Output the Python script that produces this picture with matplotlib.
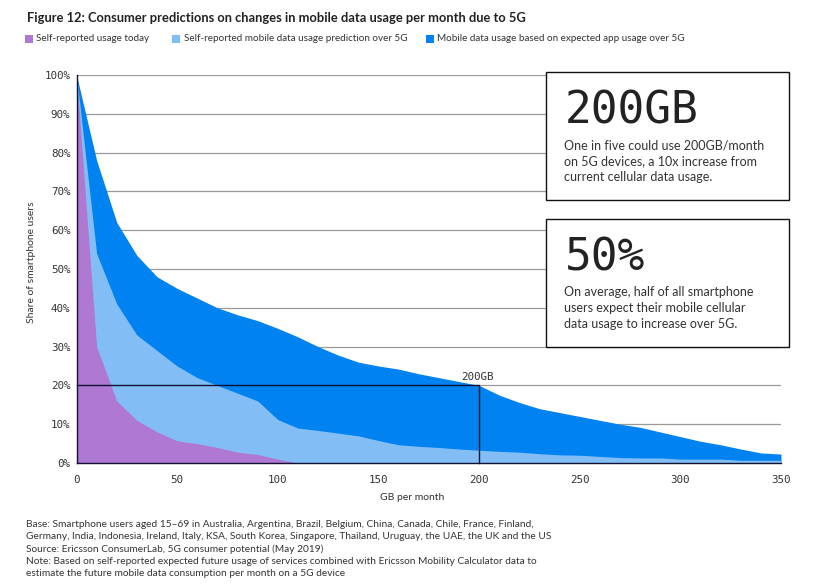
"""Consumer predictions on mobile data usage per month due to 5G."""

import matplotlib
matplotlib.use("Agg")
import matplotlib.pyplot as plt
from matplotlib.patches import Rectangle

W, H = 818, 586

gb = [0, 10, 20, 30, 40, 50, 60, 70, 80, 90, 100, 110, 120, 130, 140, 150, 160, 170,
      180, 190, 200, 210, 220, 230, 240, 250, 260, 270, 280, 290, 300, 310, 320, 330,
      340, 350]
app_based = [100, 78, 62, 53.5, 48, 45, 42.5, 40, 38.2, 36.7, 34.7, 32.5, 30, 27.8, 26,
             25, 24.2, 23, 22, 21, 20, 17.5, 15.6, 14, 13, 12, 11, 10, 9.2, 8, 6.8,
             5.6, 4.7, 3.6, 2.6, 2.3]
self_predicted = [100, 54, 41, 33, 29, 25, 22, 20, 18, 16, 11.2, 9, 8.4, 7.7, 7, 5.8,
                  4.7, 4.3, 4, 3.6, 3.3, 3, 2.8, 2.4, 2.1, 2, 1.7, 1.4, 1.3, 1.3, 1,
                  1, 1, 0.7, 0.7, 0.7]
self_today = [100, 30, 16, 11, 8, 5.7, 5, 4, 2.8, 2.2, 1, 0, 0, 0, 0, 0, 0, 0, 0, 0, 0,
              0, 0, 0, 0, 0, 0, 0, 0, 0, 0, 0, 0, 0, 0, 0]

y_ticks = [0, 10, 20, 30, 40, 50, 60, 70, 80, 90, 100]
x_ticks = [0, 50, 100, 150, 200, 250, 300, 350]

legend_labels = ["Self-reported usage today",
                 "Self-reported mobile data usage prediction over 5G",
                 "Mobile data usage based on expected app usage over 5G"]
PURPLE, LIGHT, BLUE = "#AF78D2", "#82BEF5", "#0082F0"
TEXT = "#333333"
SANS = "Lato"
MONO = "DejaVu Sans Mono"


def fx(px):
    return px / W


def fy(py):
    return 1 - py / H


fig = plt.figure(figsize=(W / 100, H / 100), dpi=100, facecolor="white")
ax = fig.add_axes([fx(76.5), fy(463), (781 - 76.5) / W, (463 - 75) / H])

ax.fill_between(gb, app_based, color=BLUE, lw=0, zorder=2)
ax.fill_between(gb, self_predicted, color=LIGHT, lw=0, zorder=3)
ax.fill_between(gb, self_today, color=PURPLE, lw=0, zorder=4)

# 200GB marker
ax.plot([0, 200, 200], [20, 20, 0], color="#111133", lw=1, zorder=5, clip_on=False)
ax.text(199, 21.0, "200GB", family=MONO, fontsize=7.8, color=TEXT, ha="center", va="bottom")

ax.set_xlim(0, 350)
ax.set_ylim(0, 100)
ax.set_xticks(x_ticks)
ax.set_yticks(y_ticks)
ax.set_yticklabels([f"{v}%" for v in y_ticks])
ax.tick_params(length=0, labelsize=7.8, labelcolor=TEXT)
ax.tick_params(axis="y", pad=4.5)
ax.tick_params(axis="x", pad=8.5)
for lab in ax.get_xticklabels() + ax.get_yticklabels():
    lab.set_family(MONO)
ax.grid(axis="y", color="#999999", lw=0.9, zorder=1)
ax.set_axisbelow(True)
for side in ("top", "right"):
    ax.spines[side].set_visible(False)
for side in ("left", "bottom"):
    ax.spines[side].set_color("#111133")
    ax.spines[side].set_linewidth(1)
    ax.spines[side].set_zorder(6)

fig.text(fx(31), fy(262), "Share of smartphone users", rotation=90, family=SANS,
         fontsize=7.5, color=TEXT, ha="center", va="center")
fig.text(fx(412), fy(497), "GB per month", family=SANS, fontsize=7.5, color=TEXT,
         ha="center", va="center")

fig.text(fx(27), fy(18), "Figure 12: Consumer predictions on changes in mobile data usage per month due to 5G",
         family=SANS, fontsize=9.28, fontweight="bold", color="#222222", va="center")

# legend row
for px, tx, label, col in zip([25, 172, 426], [36, 184, 437], legend_labels, [PURPLE, LIGHT, BLUE]):
    fig.add_artist(Rectangle((fx(px), fy(43)), 8 / W, 8 / H, color=col, lw=0,
                             transform=fig.transFigure))
    fig.text(fx(tx), fy(38.5), label, family=SANS, fontsize=7.1, color=TEXT, va="center")

# callout boxes
boxes = [
    (72, "200GB", "One in five could use 200GB/month\non 5G devices, a 10x increase from\ncurrent cellular data usage."),
    (219, "50%", "On average, half of all smartphone\nusers expect their mobile cellular\ndata usage to increase over 5G."),
]
for top, big, body in boxes:
    fig.add_artist(Rectangle((fx(546), fy(top + 128)), 243 / W, 128 / H, facecolor="white",
                             edgecolor="#111111", lw=1, transform=fig.transFigure, zorder=7))
    fig.text(fx(565), fy(top + 39), big, family=MONO, fontsize=32, color="#222222",
             va="center", zorder=8)
    fig.text(fx(564), fy(top + 89), body, family=SANS, fontsize=9, color=TEXT, va="center",
             linespacing=1.38, zorder=8)

footnote = ("Base: Smartphone users aged 15\u201369 in Australia, Argentina, Brazil, Belgium, China, Canada, Chile, France, Finland,\n"
            "Germany, India, Indonesia, Ireland, Italy, KSA, South Korea, Singapore, Thailand, Uruguay, the UAE, the UK and the US\n"
            "Source: Ericsson ConsumerLab, 5G consumer potential (May 2019)\n"
            "Note: Based on self-reported expected future usage of services combined with Ericsson Mobility Calculator data to\n"
            "estimate the future mobile data consumption per month on a 5G device")
fig.text(fx(26), fy(549), footnote, family=SANS, fontsize=7.3, color=TEXT, va="center",
         linespacing=1.45)

fig.savefig("out.png", dpi=100)
